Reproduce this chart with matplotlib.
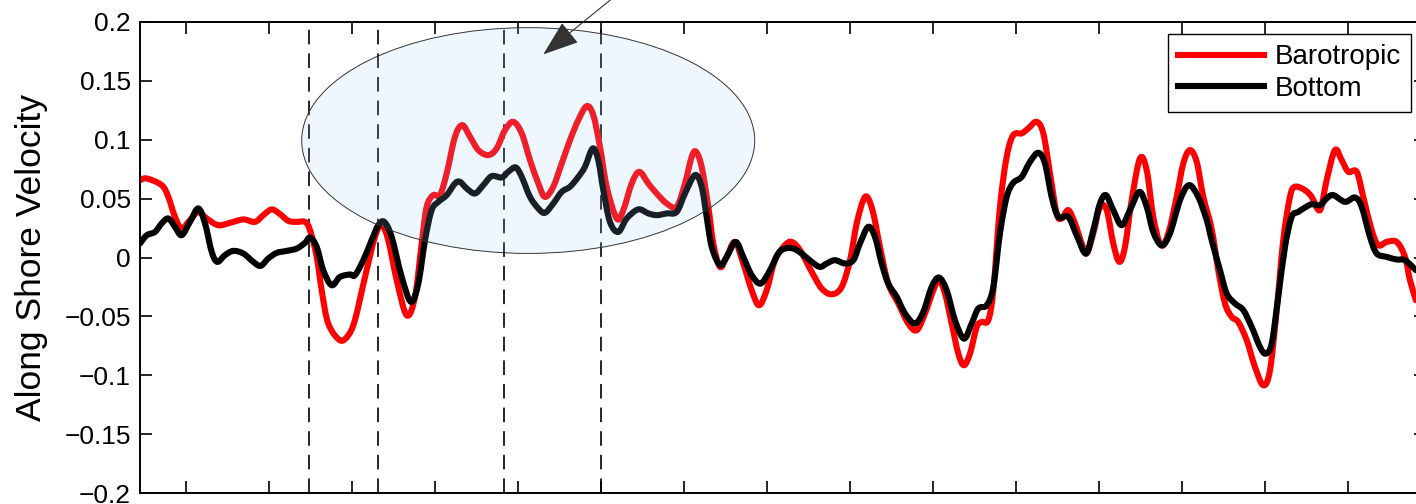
import matplotlib
matplotlib.use("Agg")
import numpy as np
import matplotlib.pyplot as plt
from matplotlib.patches import Ellipse, PathPatch
from matplotlib.path import Path
from matplotlib.lines import Line2D

plt.rcParams['font.family'] = ['Liberation Sans', 'DejaVu Sans']
plt.rcParams['lines.scale_dashes'] = False

# --- data (x in ticks units, y = along shore velocity) ---
baro_x = [0.446, 0.527, 0.707, 0.787, 0.867, 0.948, 1.048, 1.148, 1.249, 1.389,
          1.530, 1.690, 1.831, 1.931, 2.033, 2.133, 2.233, 2.334, 2.434, 2.494,
          2.575, 2.635, 2.714, 2.855, 2.955, 3.036, 3.157, 3.277, 3.358, 3.437,
          3.539, 3.659, 3.759, 3.840, 3.900, 3.980, 4.060, 4.141, 4.241, 4.329,
          4.422, 4.522, 4.642, 4.743, 4.843, 4.943, 5.045, 5.145, 5.245, 5.325,
          5.425, 5.527, 5.627, 5.727, 5.828, 5.907, 5.988, 6.069, 6.189, 6.269,
          6.370, 6.461, 6.570, 6.671, 6.792, 6.912, 7.012, 7.093, 7.145, 7.213,
          7.293, 7.353, 7.434, 7.514, 7.614, 7.714, 7.816, 7.904, 7.996, 8.096,
          8.217, 8.298, 8.398, 8.539, 8.659, 8.780, 8.900, 9.000, 9.081, 9.160,
          9.213, 9.281, 9.361, 9.461, 9.582, 9.702, 9.804, 9.904, 10.004, 10.072,
          10.145, 10.225, 10.305, 10.373, 10.446, 10.527, 10.587, 10.666, 10.727, 10.807,
          10.888, 10.967, 11.069, 11.148, 11.249, 11.329, 11.410, 11.490, 11.551, 11.630,
          11.711, 11.792, 11.852, 11.931, 12.012, 12.093, 12.172, 12.245, 12.313, 12.394,
          12.494, 12.575, 12.654, 12.747, 12.835, 12.936, 13.016, 13.096, 13.177, 13.257,
          13.358, 13.437, 13.518, 13.599, 13.678, 13.780, 13.880, 13.980, 14.060, 14.141,
          14.220, 14.301, 14.361, 14.482, 14.563, 14.663, 14.743, 14.843, 14.924, 15.004,
          15.105, 15.184, 15.286, 15.366, 15.466, 15.587, 15.687, 15.747, 15.819]
baro_y = [0.0656, 0.067, 0.0614, 0.0514, 0.0345, 0.0246, 0.0317, 0.0387, 0.0331, 0.0274,
          0.0294, 0.0323, 0.0302, 0.0359, 0.0408, 0.0368, 0.0311, 0.0302, 0.0302, 0.0232,
          0.0005, -0.0278, -0.056, -0.0702, -0.066, -0.053, -0.0165, 0.0175, 0.0274, 0.0147,
          -0.0193, -0.049, -0.0334, 0.0119, 0.043, 0.0529, 0.0529, 0.0713, 0.1024, 0.1123,
          0.1024, 0.0911, 0.0869, 0.0925, 0.108, 0.1151, 0.1053, 0.0826, 0.0628, 0.0514,
          0.06, 0.0798, 0.0996, 0.1166, 0.1284, 0.1208, 0.0939, 0.06, 0.0331, 0.0402,
          0.0628, 0.0727, 0.0628, 0.0543, 0.0458, 0.043, 0.0628, 0.0854, 0.0897, 0.0769,
          0.043, 0.0119, -0.008, 0.0005, 0.0132, -0.0051, -0.0278, -0.0405, -0.0278, -0.0023,
          0.0104, 0.0132, 0.0062, -0.0122, -0.0263, -0.0312, -0.025, -0.0023, 0.0289, 0.0486,
          0.0509, 0.0374, 0.009, -0.0221, -0.039, -0.056, -0.0617, -0.0475, -0.0278, -0.0193,
          -0.0306, -0.056, -0.0815, -0.0914, -0.0815, -0.0589, -0.0547, -0.0532, -0.0278, 0.043,
          0.0854, 0.1038, 0.1053, 0.1095, 0.1151, 0.1053, 0.0713, 0.0374, 0.0331, 0.0402,
          0.0289, 0.0119, 0.0034, 0.0204, 0.043, 0.0402, 0.0119, -0.0037, 0.009, 0.0486,
          0.084, 0.0741, 0.0345, 0.0104, 0.0204, 0.0514, 0.0798, 0.0911, 0.0812, 0.0514,
          0.024, -0.0108, -0.039, -0.0504, -0.0547, -0.0702, -0.0929, -0.1084, -0.0957, -0.0447,
          0.0147, 0.0514, 0.06, 0.0571, 0.0514, 0.0402, 0.0656, 0.0911, 0.0826, 0.0727,
          0.0727, 0.0514, 0.0232, 0.0104, 0.0132, 0.0132, 0.0005, -0.0193, -0.0363]

bot_x = [0.446, 0.527, 0.627, 0.707, 0.787, 0.867, 0.948, 1.048, 1.148, 1.229,
         1.310, 1.377, 1.470, 1.570, 1.690, 1.811, 1.900, 1.992, 2.093, 2.213,
         2.334, 2.434, 2.494, 2.575, 2.654, 2.755, 2.855, 2.976, 3.036, 3.136,
         3.237, 3.317, 3.389, 3.478, 3.599, 3.711, 3.799, 3.880, 3.960, 4.040,
         4.141, 4.241, 4.301, 4.382, 4.482, 4.582, 4.683, 4.804, 4.883, 4.972,
         5.045, 5.145, 5.245, 5.325, 5.425, 5.527, 5.627, 5.727, 5.807, 5.900,
         5.967, 6.028, 6.108, 6.208, 6.310, 6.449, 6.570, 6.671, 6.792, 6.912,
         7.012, 7.133, 7.213, 7.273, 7.334, 7.434, 7.514, 7.623, 7.714, 7.816,
         7.924, 8.036, 8.136, 8.217, 8.317, 8.418, 8.539, 8.639, 8.719, 8.819,
         8.940, 9.040, 9.120, 9.220, 9.301, 9.382, 9.461, 9.563, 9.663, 9.783,
         9.883, 9.984, 10.072, 10.165, 10.265, 10.373, 10.466, 10.546, 10.647, 10.727,
         10.807, 10.888, 10.967, 11.069, 11.169, 11.269, 11.349, 11.430, 11.510, 11.630,
         11.731, 11.843, 11.931, 12.012, 12.084, 12.172, 12.273, 12.373, 12.486, 12.575,
         12.654, 12.755, 12.855, 12.976, 13.084, 13.196, 13.298, 13.358, 13.458, 13.539,
         13.639, 13.739, 13.840, 13.940, 14.008, 14.081, 14.160, 14.241, 14.322, 14.401,
         14.482, 14.563, 14.663, 14.743, 14.823, 14.964, 15.084, 15.165, 15.265, 15.346,
         15.466, 15.587, 15.687, 15.819]
bot_y = [0.0119, 0.0189, 0.0217, 0.0289, 0.0331, 0.026, 0.0189, 0.0302, 0.0416, 0.0289,
         0.0048, -0.0037, 0.002, 0.0056, 0.0034, -0.0037, -0.0071, -0.0008, 0.0039, 0.0056,
         0.0076, 0.0124, 0.017, 0.009, -0.0108, -0.0235, -0.0165, -0.0144, -0.015, -0.0023,
         0.0147, 0.0274, 0.0302, 0.0175, -0.0165, -0.0377, -0.0221, 0.0147, 0.0402, 0.0472,
         0.0529, 0.0628, 0.0642, 0.0586, 0.0543, 0.0614, 0.069, 0.0679, 0.0727, 0.0764,
         0.0684, 0.0514, 0.0416, 0.0379, 0.0458, 0.0557, 0.06, 0.0684, 0.0769, 0.0925,
         0.0826, 0.0571, 0.0302, 0.0217, 0.0331, 0.0408, 0.0374, 0.0359, 0.0374, 0.0387,
         0.0543, 0.0699, 0.06, 0.0345, 0.009, -0.0065, 0.0005, 0.0132, 0.0005, -0.015,
         -0.0221, -0.0108, 0.0034, 0.0076, 0.0076, 0.0034, -0.0037, -0.008, -0.0051, -0.0023,
         -0.0051, -0.0023, 0.0119, 0.026, 0.0175, -0.0051, -0.0221, -0.0334, -0.0475, -0.056,
         -0.0462, -0.025, -0.017, -0.0278, -0.0532, -0.0688, -0.056, -0.0433, -0.0405, -0.025,
         0.0204, 0.0514, 0.0633, 0.0684, 0.0812, 0.0888, 0.0798, 0.0514, 0.0345, 0.0345,
         0.0189, 0.0034, 0.0232, 0.0458, 0.0529, 0.0402, 0.0274, 0.0402, 0.0557, 0.043,
         0.0217, 0.0104, 0.0204, 0.0486, 0.0614, 0.0514, 0.0317, 0.0147, -0.0108, -0.0306,
         -0.039, -0.0447, -0.0589, -0.0759, -0.0815, -0.073, -0.0334, 0.009, 0.0345, 0.0387,
         0.0424, 0.0452, 0.0444, 0.0501, 0.0529, 0.0472, 0.0509, 0.043, 0.0175, 0.0034,
         0.0005, -0.0017, -0.0023, -0.0108]

event_lines = [2.482, 3.313, 4.831, 6.0]
y_ticks = [-0.2, -0.15, -0.1, -0.05, 0, 0.05, 0.1, 0.15, 0.2]
y_tick_labels = ["\u22120.2", "\u22120.15", "\u22120.1", "\u22120.05", "0",
                 "0.05", "0.1", "0.15", "0.2"]
x_ticks = list(range(1, 16))

# highlighted window and the arrow pointing at it
ell_center = (5.123, 0.0992)
ell_width, ell_height = 5.458, 0.1915
arrow_tip = (5.305, 0.1723)
arrow_tail = (6.56, 0.244)


def smooth_path(xs, ys):
    # Catmull-Rom through the read points, drawn as cubic bezier segments
    pts = np.column_stack([xs, ys])
    p = np.vstack([pts[0], pts, pts[-1]])
    verts = [pts[0]]
    codes = [Path.MOVETO]
    for i in range(1, len(p) - 2):
        p0, p1, p2, p3 = p[i - 1], p[i], p[i + 1], p[i + 2]
        verts += [p1 + (p2 - p0) / 6, p2 - (p3 - p1) / 6, p2]
        codes += [Path.CURVE4] * 3
    return Path(verts, codes)


fig = plt.figure(figsize=(14.16, 5.04), dpi=100)
ax = fig.add_axes([140 / 1416, 1 - 493.3 / 504, 1286 / 1416, 471.6 / 504])

for xv in event_lines:
    ax.axvline(xv, color='black', lw=1.2, dashes=(10.5, 6.5), zorder=1)

series = [(baro_x, baro_y, '#ff0000', 'Barotropic'),
          (bot_x, bot_y, 'black', 'Bottom')]
handles = []
for z, (xs, ys, col, name) in enumerate(series):
    patch = PathPatch(smooth_path(xs, ys), fill=False, edgecolor=col, lw=4.4,
                      capstyle='round', joinstyle='round', zorder=2 + z)
    ax.add_patch(patch)
    handles.append(Line2D([], [], color=col, lw=4.4, label=name))

ell = Ellipse(ell_center, ell_width, ell_height, facecolor=(0.59, 0.78, 0.98, 0.16),
              edgecolor='#333333', lw=0.7, zorder=4)
ax.add_patch(ell)

ax.annotate('', xy=arrow_tip, xytext=arrow_tail, annotation_clip=False,
            arrowprops=dict(arrowstyle='-|>,head_length=2.3,head_width=0.83',
                            color='#333333', lw=0.8, shrinkA=0, shrinkB=0),
            zorder=5)

ax.set_xlim(0.446, 15.94)
ax.set_ylim(-0.2, 0.2)
ax.set_xticks(x_ticks)
ax.set_yticks(y_ticks)
ax.set_yticklabels(y_tick_labels)
ax.tick_params(direction='in', length=8.6, width=1.2, top=True, right=True,
               labelbottom=False, labelsize=19, pad=6.7)
for sp in ax.spines.values():
    sp.set_linewidth(1.4)

ax.set_ylabel('Along Shore Velocity', fontsize=25.5)
ax.yaxis.set_label_coords(-0.0715, 0.5)

leg = ax.legend(handles=handles, loc='upper right',
                bbox_to_anchor=(1411 / 1416, 1 - 34.3 / 504),
                bbox_transform=fig.transFigure, borderaxespad=0, fontsize=20,
                handlelength=3.1, handletextpad=0.4, labelspacing=0.2,
                borderpad=0.36, fancybox=False, framealpha=1)
leg.get_frame().set_edgecolor('black')
leg.get_frame().set_linewidth(1.0)

fig.savefig('out.png', dpi=100)
print("saved out.png")
